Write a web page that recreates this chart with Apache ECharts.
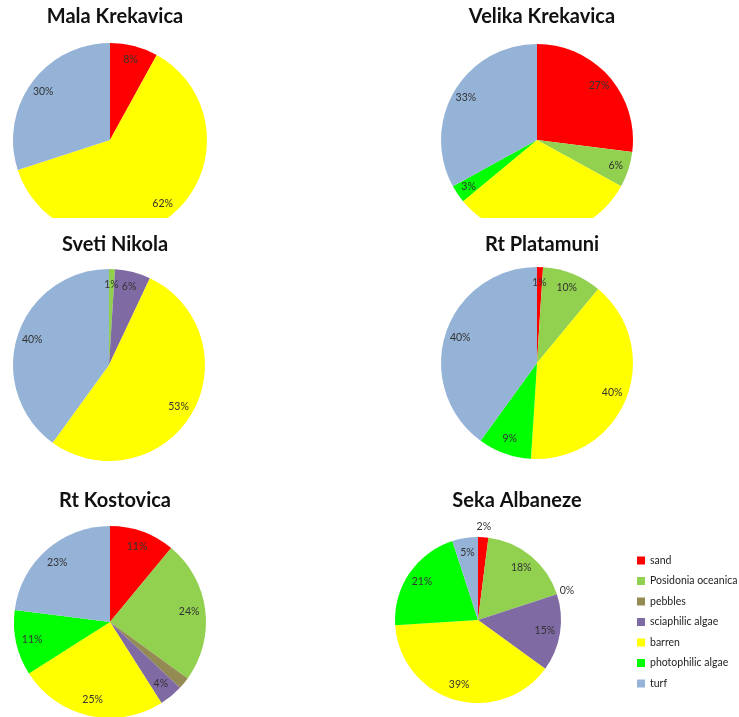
<!DOCTYPE html>
<html>
<head>
<meta charset="utf-8">
<script src="https://cdn.jsdelivr.net/npm/echarts@6/dist/echarts.min.js"></script>
<style>
html,body{margin:0;padding:0;background:#fff;}
#chart{width:739px;height:717px;}
</style>
</head>
<body>
<div id="chart"></div>
<script>
// ---- data ----
var categories = ['sand','Posidonia oceanica','pebbles','sciaphilic algae','barren','photophilic algae','turf'];
var colors = ['#FF0000','#92D050','#948A54','#7F6AA3','#FFFF00','#00FF00','#95B3D7'];
var sites = ['Mala Krekavica','Velika Krekavica','Sveti Nikola','Rt Platamuni','Rt Kostovica','Seka Albaneze'];
var malaKrekavica   = [8, 0, 0, 0, 62, 0, 30];
var velikaKrekavica = [27, 6, 0, 0, 31, 3, 33];
var svetiNikola     = [0, 1, 0, 6, 53, 0, 40];
var rtPlatamuni     = [1, 10, 0, 0, 40, 9, 40];
var rtKostovica     = [11, 24, 2, 4, 25, 11, 23];
var sekaAlbaneze    = [2, 18, 0, 15, 39, 21, 5];
var siteValues = [malaKrekavica, velikaKrekavica, svetiNikola, rtPlatamuni, rtKostovica, sekaAlbaneze];

// ---- layout ----
var layout = [
  {cx:110, cy:140, r:97, tx:110, ty:2,   lr:0.64, hide:[], outside:[]},
  {cx:537, cy:140, r:96, tx:537, ty:2,   lr:0.66, hide:[], outside:[]},
  {cx:109, cy:365, r:96, tx:110, ty:230, lr:0.62, hide:[], outside:[]},
  {cx:537, cy:363, r:96, tx:537, ty:230, lr:0.62, hide:[], outside:[]},
  {cx:110, cy:622, r:96, tx:110, ty:486, lr:0.60, hide:[2], outside:[]},
  {cx:478, cy:620, r:83, tx:512, ty:486, lr:0.56, hide:[0,2], outside:[0,2]}
];

var chart = echarts.init(document.getElementById('chart'), null, {renderer:'canvas'});
var titles = [], series = [];
var fontFam = 'Lato, "Open Sans", sans-serif';

sites.forEach(function(name, i){
  var L = layout[i], vals = siteValues[i];
  titles.push({text:name, left:L.tx, top:L.ty, textAlign:'center', z:200,
    textStyle:{fontFamily:fontFam, fontWeight:'bold', fontSize:20, color:'#111'}});
  var data = categories.map(function(c, k){
    return {name:c, value:vals[k], itemStyle:{color:colors[k]}};
  });
  series.push({
    type:'pie', name:name, center:[L.cx, L.cy], radius:[0, L.r],
    startAngle:90, clockwise:true, avoidLabelOverlap:false,
    label:{show:false}, labelLine:{show:false},
    itemStyle:{borderWidth:0}, emphasis:{disabled:true}, silent:true,
    data:data
  });
  // label ring (transparent) to place labels at ~0.8 r
  series.push({
    type:'pie', name:name+' labels', center:[L.cx, L.cy], radius:[L.r*L.lr, L.r],
    startAngle:90, clockwise:true, avoidLabelOverlap:false, silent:true,
    emphasis:{disabled:true}, labelLine:{show:false},
    itemStyle:{color:'rgba(0,0,0,0)', borderWidth:0},
    label:{show:true, position:'inside', fontFamily:fontFam, fontSize:10.5, color:'#333',
      formatter:function(p){ return p.value > 0 ? p.value + '%' : ''; }},
    data:categories.map(function(c, k){
      var d = {name:c, value:vals[k]};
      if (L.hide.indexOf(k) >= 0) d.label = {show:false};
      return d;
    })
  });
  if (L.outside.length){
    series.push({
      type:'pie', name:name+' outer labels', center:[L.cx, L.cy], radius:[L.r, L.r+15],
      startAngle:90, clockwise:true, avoidLabelOverlap:false, silent:true,
      emphasis:{disabled:true}, labelLine:{show:false}, stillShowZeroSum:true,
      itemStyle:{color:'rgba(0,0,0,0)', borderWidth:0},
      label:{show:true, position:'inside', fontFamily:fontFam, fontSize:10.5, color:'#333',
        formatter:function(p){ return p.value + '%'; }},
      data:categories.map(function(c, k){
        var d = {name:c, value:vals[k]};
        if (L.outside.indexOf(k) < 0) d.label = {show:false};
        return d;
      })
    });
  }
});

chart.setOption({
  backgroundColor:'#fff',
  animation:false,
  title:titles,
  legend:{
    orient:'vertical', left:632, top:550, itemWidth:8, itemHeight:8, itemGap:9.5,
    icon:'rect', selectedMode:false, padding:[5,5,5,5],
    data:categories,
    textStyle:{fontFamily:fontFam, fontSize:10.5, color:'#222'}
  },
  series:series,
  graphic:[
    {type:'rect', shape:{x:0, y:218, width:739, height:22}, style:{fill:'#fff'}, z:100}
  ]
});
</script>
</body>
</html>
